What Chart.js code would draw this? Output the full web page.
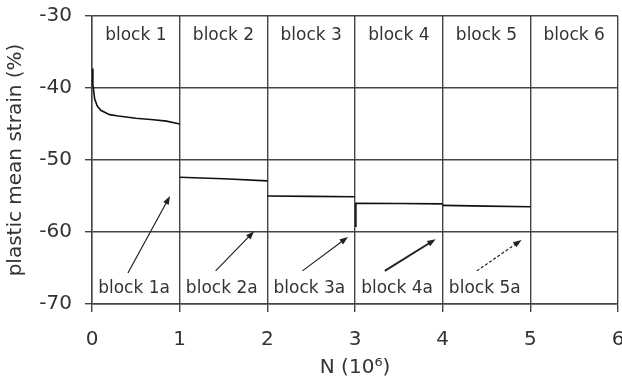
<!DOCTYPE html>
<html>
<head>
<meta charset="utf-8">
<script src="https://cdn.jsdelivr.net/npm/chart.js@4"></script>
<style>
  html, body { margin: 0; padding: 0; background: #fff; }
</style>
</head>
<body>
<canvas id="grafico" width="622" height="382"></canvas>
<script>
// --- data ---
const xTicks = [0, 1, 2, 3, 4, 5, 6];
const yTicks = [-70, -60, -50, -40, -30];

const block1N = [0, 0.01, 0.03, 0.06, 0.1, 0.2, 0.3, 0.5, 0.7, 0.85, 1.0];
const block1S = [-37.3, -39.5, -41.5, -42.5, -43.1, -43.7, -43.9, -44.2, -44.4, -44.6, -45.0];
const block2N = [1.0, 1.5, 2.0];
const block2S = [-52.4, -52.6, -52.9];
const block3N = [2.0, 2.5, 3.0];
const block3S = [-55.0, -55.05, -55.1];
const block4N = [3.0, 3.01, 3.5, 4.0];
const block4S = [-59.2, -56.0, -56.05, -56.1];
const block5N = [4.0, 4.5, 5.0];
const block5S = [-56.3, -56.4, -56.5];

const topLabels = ['block 1', 'block 2', 'block 3', 'block 4', 'block 5', 'block 6'];
const bottomLabels = ['block 1a', 'block 2a', 'block 3a', 'block 4a', 'block 5a'];

// arrows: start (N, strain) -> end (N, strain)
const arrowFromN = [0.41, 1.41, 2.40, 3.34, 4.39];
const arrowFromS = [-65.7, -65.4, -65.4, -65.4, -65.4];
const arrowToN = [0.89, 1.85, 2.92, 3.92, 4.90];
const arrowToS = [-55.0, -59.9, -60.7, -61.0, -61.1];

function puntos(xs, ys) {
  return xs.map((x, i) => ({ x: x, y: ys[i] }));
}

function serie(xs, ys) {
  return {
    data: puntos(xs, ys),
    showLine: true,
    borderColor: '#111',
    borderWidth: 1.6,
    pointRadius: 0,
    tension: 0
  };
}

const textColor = '#333';
const gridColor = '#444';

// block names and arrows drawn through the scales
const anotaciones = {
  id: 'anotaciones',
  afterDatasetsDraw(chart) {
    const ctx = chart.ctx;
    const xs = chart.scales.x, ys = chart.scales.y;
    ctx.save();
    ctx.fillStyle = textColor;
    ctx.font = '17px "DejaVu Sans"';
    ctx.textAlign = 'center';
    ctx.textBaseline = 'middle';
    topLabels.forEach((t, i) => {
      ctx.fillText(t, xs.getPixelForValue(i + 0.5), ys.getPixelForValue(-32.7));
    });
    bottomLabels.forEach((t, i) => {
      ctx.fillText(t, xs.getPixelForValue(i + 0.48), ys.getPixelForValue(-67.8));
    });

    arrowFromN.forEach((n, i) => {
      const x1 = xs.getPixelForValue(n), y1 = ys.getPixelForValue(arrowFromS[i]);
      const x2 = xs.getPixelForValue(arrowToN[i]), y2 = ys.getPixelForValue(arrowToS[i]);
      const ang = Math.atan2(y2 - y1, x2 - x1);
      const head = 9;
      ctx.strokeStyle = '#222';
      ctx.fillStyle = '#222';
      ctx.lineWidth = i === 3 ? 2 : 1.2;
      ctx.setLineDash(i === 4 ? [3, 2] : []);
      ctx.beginPath();
      ctx.moveTo(x1, y1);
      ctx.lineTo(x2 - Math.cos(ang) * head * 0.8, y2 - Math.sin(ang) * head * 0.8);
      ctx.stroke();
      ctx.setLineDash([]);
      ctx.beginPath();
      ctx.moveTo(x2, y2);
      ctx.lineTo(x2 - head * Math.cos(ang - 0.35), y2 - head * Math.sin(ang - 0.35));
      ctx.lineTo(x2 - head * Math.cos(ang + 0.35), y2 - head * Math.sin(ang + 0.35));
      ctx.closePath();
      ctx.fill();
    });
    ctx.restore();
  }
};

const ctx = document.getElementById('grafico').getContext('2d');
new Chart(ctx, {
  type: 'scatter',
  data: {
    datasets: [
      serie(block1N, block1S),
      serie(block2N, block2S),
      serie(block3N, block3S),
      serie(block4N, block4S),
      serie(block5N, block5S)
    ]
  },
  options: {
    responsive: false,
    animation: false,
    devicePixelRatio: 1,
    layout: { padding: { left: 0, right: 4, top: 16, bottom: 0 } },
    plugins: {
      legend: { display: false },
      tooltip: { enabled: false }
    },
    scales: {
      x: {
        type: 'linear',
        min: 0,
        max: 6,
        afterBuildTicks: s => { s.ticks = xTicks.map(v => ({ value: v })); },
        afterFit: s => { s.height = 78; s.paddingLeft = 0; s.paddingRight = 0; },
        ticks: { color: textColor, font: { family: 'DejaVu Sans', size: 20 }, padding: 16, maxRotation: 0 },
        grid: { color: gridColor, lineWidth: 1.4, tickLength: 8 },
        border: { color: gridColor, width: 1.4 },
        title: {
          display: true,
          text: 'N (10\u2076)',
          color: textColor,
          font: { family: 'DejaVu Sans', size: 20 },
          padding: { top: 0, bottom: 2 }
        }
      },
      y: {
        type: 'linear',
        min: -70,
        max: -30,
        afterBuildTicks: s => { s.ticks = yTicks.map(v => ({ value: v })); },
        afterFit: s => { s.width = 92; s.paddingTop = 0; s.paddingBottom = 0; },
        ticks: { color: textColor, font: { family: 'DejaVu Sans', size: 20 }, padding: 13 },
        grid: { color: gridColor, lineWidth: 1.4, tickLength: 7 },
        border: { color: gridColor, width: 1.4 },
        title: {
          display: true,
          text: 'plastic mean strain (%)',
          color: textColor,
          font: { family: 'DejaVu Sans', size: 20 },
          padding: { top: 4, bottom: 0 }
        }
      }
    }
  },
  plugins: [anotaciones]
});
</script>
</body>
</html>
